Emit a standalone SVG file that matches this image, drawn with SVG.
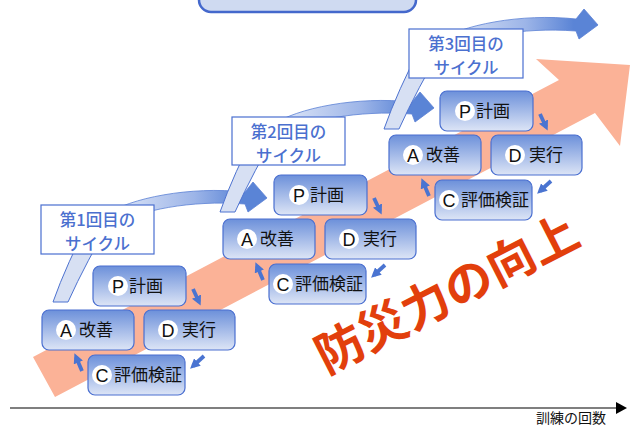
<svg xmlns="http://www.w3.org/2000/svg" width="636" height="427" viewBox="0 0 636 427">
<defs>
<linearGradient id="boxGrad" x1="0" y1="0" x2="0" y2="1">
<stop offset="0" stop-color="#6C90DA"/>
<stop offset="1" stop-color="#DDE5F6"/>
</linearGradient>
<linearGradient id="bandGrad" x1="0" y1="0" x2="1" y2="0">
<stop offset="0" stop-color="#E6ECF9"/>
<stop offset="0.55" stop-color="#9DB5E8"/>
<stop offset="0.85" stop-color="#5A84D6"/>
<stop offset="1" stop-color="#5A84D6"/>
</linearGradient>
<marker id="ah" viewBox="0 0 10 10" refX="6" refY="5" markerWidth="2.6" markerHeight="2.6" orient="auto">
<path d="M0,0 L10,5 L0,10 Z" fill="#4A74D1"/>
</marker>
</defs>
<style>
.box{fill:url(#boxGrad);stroke:#4A6FD0;stroke-width:1.2}
.circ{fill:#fff}
.let{font-family:"Liberation Sans",Arial,sans-serif;font-size:18px;fill:#111;text-anchor:middle}
.jp{font-family:"Noto Sans CJK JP","Noto Sans CJK SC",sans-serif;font-size:17px;fill:#111}
.lbl{fill:#fff;stroke:#4A6FD0;stroke-width:1.2}
.lbltxt{font-family:"Noto Sans CJK JP","Noto Sans CJK SC",sans-serif;font-size:16.5px;font-weight:500;fill:#4B70CF;text-anchor:middle}
.band{fill:url(#bandGrad);stroke:#5A80D4;stroke-width:0.8}
.pale{fill:#D7E0F3;stroke:#4D72D0;stroke-width:1}
.sa{stroke:#4A74D1;stroke-width:3.8;fill:none;marker-end:url(#ah)}
</style>

<!-- top cut-off box -->
<rect x="199" y="-30" width="217" height="42" rx="12" fill="#CFDAF1" stroke="#4468CC" stroke-width="2.5"/>

<!-- big pink arrow -->
<polygon points="33,357 559,80 536,59 630,65 620,146 595,113 55,397" fill="#FBB297"/>

<g id="connectors">
<g id="cycle-arrow-1">
<path class="band" d="M105,215 C130,198 190,186 245,192 L253,182 L267,198 L248,212 L245,204 C190,200 140,210 115,225 Z"/>
</g>
<g id="cycle-arrow-2" transform="translate(167,-90)">
<path class="band" d="M105,215 C130,198 190,186 245,192 L253,182 L267,198 L248,212 L245,204 C190,200 140,210 115,225 Z"/>
</g>
<g id="cycle-arrow-3" transform="translate(331,-173)">
<path class="band" d="M105,215 C130,198 190,186 245,192 L253,182 L267,198 L248,212 L245,204 C190,200 140,210 115,225 Z"/>
</g>
<path class="pale" d="M53,302 Q66,265 92,215 L114,215 Q86,262 68,302 Z"/>
<path class="pale" transform="translate(167,-90)" d="M53,302 Q66,265 92,215 L114,215 Q86,262 68,302 Z"/>
<path class="pale" transform="translate(331,-173)" d="M53,302 Q66,265 92,215 L114,215 Q86,262 68,302 Z"/>
<g id="pdca-arrows-1">
<path class="sa" d="M193,289 L199,302"/>
<path class="sa" d="M204,356 L193,366"/>
<path class="sa" d="M82,371 L76,357"/>
</g>
<g id="pdca-arrows-2" transform="translate(181,-91)">
<path class="sa" d="M193,289 L199,302"/>
<path class="sa" d="M204,356 L193,366"/>
<path class="sa" d="M82,371 L76,357"/>
</g>
<g id="pdca-arrows-3" transform="translate(347,-175)">
<path class="sa" d="M193,289 L199,302"/>
<path class="sa" d="M204,356 L193,366"/>
<path class="sa" d="M82,371 L76,357"/>
</g>
</g>

<g id="label1">
<rect class="lbl" x="41" y="205" width="113" height="49"/>
<text class="lbltxt" x="97.5" y="226">第1回目の</text>
<text class="lbltxt" x="97.5" y="249.5">サイクル</text>
</g>
<g id="label2">
<rect class="lbl" x="232" y="117" width="113" height="48"/>
<text class="lbltxt" x="288.5" y="138">第2回目の</text>
<text class="lbltxt" x="288.5" y="161.5">サイクル</text>
</g>
<g id="label3">
<rect class="lbl" x="409" y="29" width="114" height="49"/>
<text class="lbltxt" x="466" y="50">第3回目の</text>
<text class="lbltxt" x="466" y="73.5">サイクル</text>
</g>

<g id="c1-P">
<rect class="box" x="93" y="266" width="93" height="40" rx="7"/>
<circle class="circ" cx="118" cy="286" r="10"/>
<text class="let" x="118" y="292.5">P</text>
<text class="jp" x="129" y="292">計画</text>
</g>
<g id="c1-A">
<rect class="box" x="42" y="310" width="92" height="40" rx="7"/>
<circle class="circ" cx="66" cy="330" r="10"/>
<text class="let" x="66" y="336.5">A</text>
<text class="jp" x="79" y="336">改善</text>
</g>
<g id="c1-D">
<rect class="box" x="144" y="310" width="91" height="40" rx="7"/>
<circle class="circ" cx="168" cy="330" r="10"/>
<text class="let" x="168" y="336.5">D</text>
<text class="jp" x="182" y="336">実行</text>
</g>
<g id="c1-C">
<rect class="box" x="88" y="355" width="97" height="40" rx="7"/>
<circle class="circ" cx="102" cy="375" r="10"/>
<text class="let" x="102" y="381.5">C</text>
<text class="jp" x="114" y="381">評価検証</text>
</g>

<g id="c2-P" transform="translate(181,-91)">
<rect class="box" x="93" y="266" width="93" height="40" rx="7"/>
<circle class="circ" cx="118" cy="286" r="10"/>
<text class="let" x="118" y="292.5">P</text>
<text class="jp" x="129" y="292">計画</text>
</g>
<g id="c2-A" transform="translate(181,-91)">
<rect class="box" x="42" y="310" width="92" height="40" rx="7"/>
<circle class="circ" cx="66" cy="330" r="10"/>
<text class="let" x="66" y="336.5">A</text>
<text class="jp" x="79" y="336">改善</text>
</g>
<g id="c2-D" transform="translate(181,-91)">
<rect class="box" x="144" y="310" width="91" height="40" rx="7"/>
<circle class="circ" cx="168" cy="330" r="10"/>
<text class="let" x="168" y="336.5">D</text>
<text class="jp" x="182" y="336">実行</text>
</g>
<g id="c2-C" transform="translate(181,-91)">
<rect class="box" x="88" y="355" width="97" height="40" rx="7"/>
<circle class="circ" cx="102" cy="375" r="10"/>
<text class="let" x="102" y="381.5">C</text>
<text class="jp" x="114" y="381">評価検証</text>
</g>

<g id="c3-P" transform="translate(347,-175)">
<rect class="box" x="93" y="266" width="93" height="40" rx="7"/>
<circle class="circ" cx="118" cy="286" r="10"/>
<text class="let" x="118" y="292.5">P</text>
<text class="jp" x="129" y="292">計画</text>
</g>
<g id="c3-A" transform="translate(347,-175)">
<rect class="box" x="42" y="310" width="92" height="40" rx="7"/>
<circle class="circ" cx="66" cy="330" r="10"/>
<text class="let" x="66" y="336.5">A</text>
<text class="jp" x="79" y="336">改善</text>
</g>
<g id="c3-D" transform="translate(347,-175)">
<rect class="box" x="144" y="310" width="91" height="40" rx="7"/>
<circle class="circ" cx="168" cy="330" r="10"/>
<text class="let" x="168" y="336.5">D</text>
<text class="jp" x="182" y="336">実行</text>
</g>
<g id="c3-C" transform="translate(347,-175)">
<rect class="box" x="88" y="355" width="97" height="40" rx="7"/>
<circle class="circ" cx="102" cy="375" r="10"/>
<text class="let" x="102" y="381.5">C</text>
<text class="jp" x="114" y="381">評価検証</text>
</g>

<text x="447" y="311" transform="rotate(-27 447 294)" text-anchor="middle" font-family="'Noto Sans CJK JP','Noto Sans CJK SC',sans-serif" font-size="48" font-weight="bold" fill="#E23F0C">防災力の向上</text>

<g id="axis">
<line x1="10" y1="408" x2="618" y2="408" stroke="#000" stroke-width="1.2"/>
<polygon points="616,402 627,408 616,414" fill="#000"/>
<text x="606" y="423" text-anchor="end" font-family="'Noto Sans CJK JP','Noto Sans CJK SC',sans-serif" font-size="14" fill="#111">訓練の回数</text>
</g>
</svg>
